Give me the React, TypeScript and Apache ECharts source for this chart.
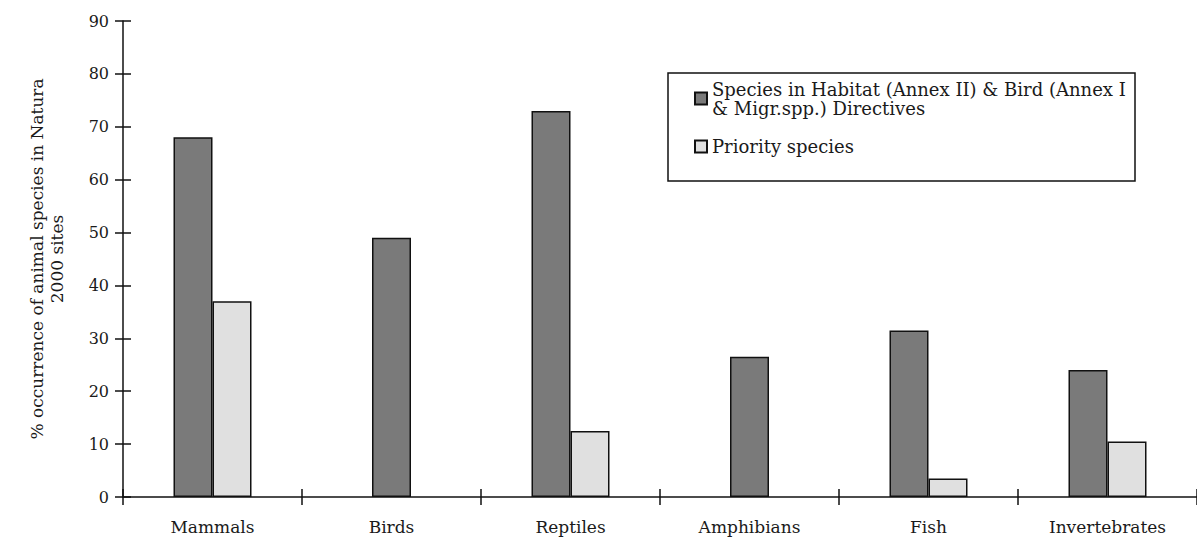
import React, { useEffect, useRef } from "react";
import * as echarts from "echarts";

const categories = ["Mammals", "Birds", "Reptiles", "Amphibians", "Fish", "Invertebrates"];
const directiveSpecies = [68, 49, 73, 26.5, 31.5, 24];
const prioritySpecies: (number | null)[] = [37, null, 12.5, null, 3.5, 10.5];

const DIR_NAME = "Species in Habitat (Annex II) & Bird (Annex I\n& Migr.spp.) Directives";
const PRI_NAME = "Priority species";
const yAxisName = "% occurrence of animal species in Natura\n2000 sites";

const FONT = "DejaVu Serif";
const INK = "#1a1a1a";
const DARK = "#7a7a7a";
const LIGHT = "#e0e0e0";

export default function App() {
  const ref = useRef<HTMLDivElement>(null);
  useEffect(() => {
    if (!ref.current) return;
    const chart = echarts.init(ref.current, undefined, { renderer: "svg" });
    const pairedDir = directiveSpecies.map((v, i) => (prioritySpecies[i] == null ? "-" : v));
    const singleDir = directiveSpecies.map((v, i) => (prioritySpecies[i] == null ? v : "-"));
    const pri = prioritySpecies.map((v) => (v == null ? "-" : v));
    const barStyle = (c: string) => ({ color: c, borderColor: "#111", borderWidth: 1.5 });
    const tickStyle = { color: "#111", width: 1.5 };
    chart.setOption({
      animation: false,
      backgroundColor: "#fff",
      grid: { left: 123, top: 21, width: 1081, height: 476, containLabel: false },
      legend: {
        orient: "vertical",
        left: 694,
        top: 70,
        padding: 0,
        itemWidth: 12,
        itemHeight: 12,
        itemGap: 10,
        icon: "rect",
        textStyle: { fontFamily: FONT, fontSize: 18, color: INK, lineHeight: 19 },
        data: [
          { name: DIR_NAME, textStyle: { padding: [19, 0, 0, 0] } },
          { name: PRI_NAME },
        ],
      },
      graphic: [
        {
          type: "rect",
          shape: { x: 668, y: 73, width: 467, height: 108 },
          style: { fill: "none", stroke: "#111", lineWidth: 1.5 },
          z: 0,
        },
      ],
      xAxis: [
        {
          type: "category",
          data: categories,
          position: "bottom",
          axisLine: { lineStyle: { color: "#111", width: 1.5 } },
          axisTick: { show: false },
          axisLabel: { fontFamily: FONT, fontSize: 17, color: INK, margin: 21, interval: 0 },
        },
        {
          type: "category",
          data: categories,
          position: "bottom",
          offset: -8,
          axisLine: { show: false },
          axisTick: { show: true, length: 16, interval: 0, lineStyle: tickStyle },
          axisLabel: { show: false },
        },
      ],
      yAxis: [
        {
          type: "value",
          min: 0,
          max: 90,
          interval: 10,
          position: "left",
          name: yAxisName,
          nameLocation: "middle",
          nameGap: 56,
          nameTextStyle: { fontFamily: FONT, fontSize: 17, color: INK, lineHeight: 20 },
          axisLine: { show: true, lineStyle: { color: "#111", width: 1.5 } },
          axisTick: { show: false },
          axisLabel: { fontFamily: FONT, fontSize: 16, color: INK, margin: 14 },
          splitLine: { show: false },
        },
        {
          type: "value",
          min: 0,
          max: 90,
          interval: 10,
          position: "left",
          offset: -8,
          axisLine: { show: false },
          axisTick: { show: true, length: 16, lineStyle: tickStyle },
          axisLabel: { show: false },
          splitLine: { show: false },
        },
      ],
      series: [
        {
          type: "bar",
          name: DIR_NAME,
          xAxisIndex: 0,
          yAxisIndex: 0,
          data: pairedDir,
          barWidth: 39,
          barGap: "0%",
          itemStyle: barStyle(DARK),
        },
        {
          type: "bar",
          name: PRI_NAME,
          xAxisIndex: 0,
          yAxisIndex: 0,
          data: pri,
          barWidth: 39,
          barGap: "0%",
          itemStyle: barStyle(LIGHT),
        },
        {
          type: "bar",
          name: DIR_NAME,
          xAxisIndex: 1,
          yAxisIndex: 0,
          data: singleDir,
          barWidth: 39,
          itemStyle: barStyle(DARK),
        },
      ],
    });
    return () => chart.dispose();
  }, []);
  return (
    <div
      ref={ref}
      style={{ position: "absolute", left: 0, top: 0, width: 1197, height: 542 }}
    />
  );
}
